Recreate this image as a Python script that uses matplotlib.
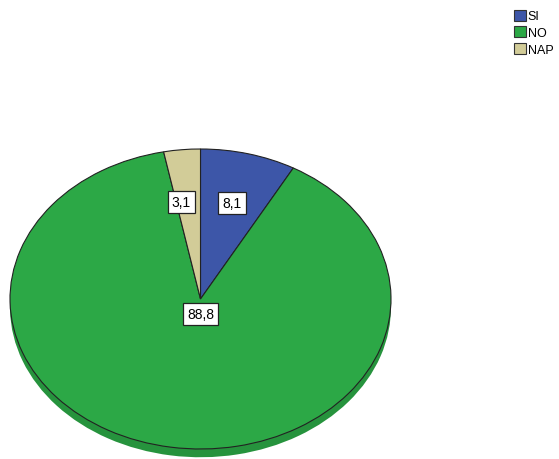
import matplotlib.pyplot as plt
import matplotlib.patches as mpatches

plt.rcParams['font.family'] = ['Liberation Sans', 'DejaVu Sans']

# data
labels = ['SI', 'NO', 'NAP']
values = [8.1, 88.8, 3.1]
colors = ['#3d56a8', '#2ca846', '#d2cc98']
side_colors = ['#2c3f7c', '#26933d', '#a8a275']

fig = plt.figure(figsize=(5.59, 4.60), dpi=100)
# pie axes: squashed so the pie reads as a tilted ellipse
ax = fig.add_axes([10 / 559, 0, 381 / 559, 310 / 460])

depth = 0.055
# side (depth) of the pie
side, _ = ax.pie(values, colors=side_colors, startangle=90, counterclock=False,
                 radius=1, center=(0, -depth), frame=True,
                 wedgeprops=dict(edgecolor='none'))
# top face
wedges, texts, autotexts = ax.pie(values, colors=colors, startangle=90, counterclock=False,
                                  radius=1, center=(0, 0), frame=True,
                                  autopct=lambda p: f'{p:.1f}'.replace('.', ','),
                                  pctdistance=0.66,
                                  wedgeprops=dict(edgecolor='#222222', linewidth=0.8))
ax.set_aspect('auto')
ax.set_xlim(-1, 1)
ax.set_ylim(-1.0667, 1)
ax.axis('off')

for t in autotexts:
    t.set_fontsize(10)
    t.set_color('black')
    t.set_bbox(dict(boxstyle='square,pad=0.3', facecolor='white', edgecolor='#222222', linewidth=0.9))
# the big slice label sits just below the centre
autotexts[1].set_position((0, -0.1))
autotexts[2].set_position((-0.1, 0.647))

# legend
handles = [mpatches.Patch(facecolor=c, edgecolor='#333333', linewidth=0.8, label=l)
           for c, l in zip(colors, labels)]
fig.legend(handles=handles, loc='upper left', bbox_to_anchor=(511 / 559, 1 - 8 / 460),
           frameon=False, fontsize=9, handlelength=1.0, handleheight=1.0,
           handletextpad=0.15, labelspacing=0.3, borderaxespad=0, borderpad=0.2)

plt.savefig('out.png', dpi=100)
